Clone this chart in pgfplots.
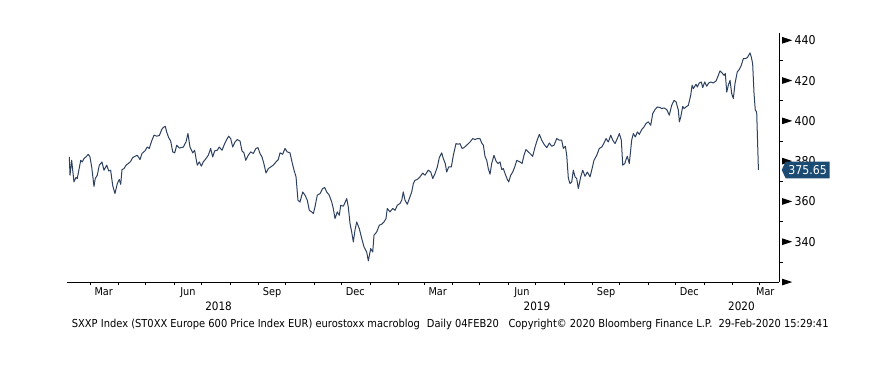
\documentclass[border=0pt]{standalone}
\usepackage{fontspec}
\setmainfont{DejaVu Sans}[FakeStretch=0.9]
\usepackage{pgfplots}
\pgfplotsset{compat=1.18}
\usetikzlibrary{shapes.symbols}
\definecolor{linec}{HTML}{2D415F}
\definecolor{tagc}{HTML}{1B4A72}
\newcommand{\tri}{\tikz[baseline={(0,-4.45bp)}]\fill[black] (0,-3.35bp)--(10bp,0)--(0,3.35bp)--cycle;}
\newcommand{\tl}[1]{\tri\hspace{2.4bp}#1}
\pgfplotstableread{
d v
36.4 382.1
37.2 373.0
39.0 380.4
41.5 369.7
43.7 371.9
45.1 371.4
48.9 380.4
50.6 379.6
52.5 381.3
54.6 382.1
57.2 383.4
59.0 382.1
60.9 377.1
63.4 367.5
64.8 371.4
67.0 373.0
69.2 378.0
72.1 379.6
74.3 375.5
77.3 378.0
79.5 375.1
81.6 375.5
83.8 368.0
86.3 363.9
88.9 368.9
91.0 370.9
92.6 368.5
94.0 375.8
96.2 376.3
98.4 378.0
100.9 378.8
103.5 379.9
105.7 381.8
108.2 382.4
110.7 382.9
113.7 380.8
115.8 383.8
119.1 385.1
121.6 387.0
123.8 386.3
126.4 390.0
129.0 392.9
131.9 392.4
134.8 392.7
137.4 395.7
139.1 396.7
141.3 397.3
142.8 394.5
145.0 391.7
147.2 390.0
149.4 384.6
151.6 384.1
153.8 387.9
156.6 386.5
161.0 387.0
163.9 389.5
166.1 393.7
168.3 387.0
171.3 384.1
173.4 385.4
174.9 381.3
176.3 378.0
178.5 379.6
180.7 377.5
182.8 379.6
185.8 381.3
188.3 382.9
190.9 386.3
193.1 382.1
195.3 385.1
198.1 385.4
200.3 387.0
203.3 385.4
206.2 388.7
208.4 390.7
210.6 392.4
212.8 391.2
215.0 387.0
217.5 389.5
220.0 390.7
223.0 390.0
225.1 385.1
227.3 384.1
229.2 380.4
232.0 382.9
234.6 384.6
237.5 383.8
240.4 386.3
242.6 386.7
244.8 383.8
247.0 382.1
249.2 378.5
251.4 374.1
253.9 376.3
256.5 377.1
259.3 378.0
262.3 379.6
264.8 380.8
266.7 384.1
269.6 383.4
272.1 386.3
274.6 384.6
277.6 384.1
279.8 379.6
282.0 375.5
284.2 372.2
286.3 360.6
288.5 359.7
291.5 364.7
294.0 363.1
296.5 360.6
298.7 355.6
301.3 354.8
303.1 354.0
304.9 357.3
307.4 363.1
310.4 363.9
313.3 366.4
315.5 366.9
317.7 364.7
320.5 363.1
323.2 359.7
324.9 356.5
326.8 351.5
329.3 354.8
331.5 353.1
333.0 358.1
335.9 357.6
339.6 361.4
341.3 357.3
343.2 349.0
345.0 344.9
346.8 339.9
348.6 345.7
350.5 349.8
353.3 346.5
356.0 341.6
358.5 337.4
361.4 334.9
363.2 330.5
365.8 336.6
368.0 334.9
369.4 343.2
372.4 344.9
375.2 348.2
377.8 348.7
380.3 349.8
382.5 351.5
383.9 356.5
386.9 354.8
389.8 356.5
392.4 355.6
394.9 358.1
397.8 359.0
399.7 360.6
401.4 364.7
403.3 360.6
405.8 358.6
408.0 361.4
410.6 364.7
412.4 368.9
414.2 370.5
416.7 370.9
419.7 372.2
422.6 374.1
425.1 373.0
428.7 375.5
431.4 374.6
433.6 371.4
436.1 373.8
438.6 377.1
440.8 381.8
443.4 384.1
445.1 381.3
447.3 378.8
448.8 374.6
451.0 377.1
453.9 377.1
456.1 382.9
459.0 388.7
461.5 388.4
463.4 388.7
465.6 386.3
467.8 386.7
470.7 387.9
474.3 389.5
477.3 391.2
479.8 390.7
482.3 391.2
485.2 391.2
487.1 389.0
488.9 387.9
490.7 382.4
492.6 380.4
494.3 376.3
496.2 373.5
498.0 378.8
500.5 382.9
502.7 380.1
504.9 378.8
507.1 379.6
509.0 375.8
510.7 376.3
512.9 373.5
515.1 370.9
516.6 369.7
518.8 373.0
521.0 374.6
523.2 377.1
525.4 380.4
529.0 379.6
531.2 378.8
533.3 382.9
535.5 385.8
538.0 384.6
539.9 383.8
542.8 382.4
545.4 387.0
547.9 390.7
550.1 393.3
552.7 390.4
555.2 388.4
558.2 386.7
561.0 389.0
563.6 387.4
566.1 387.9
569.1 391.2
571.9 390.4
574.5 390.4
576.3 386.3
578.5 387.4
580.0 382.9
581.8 371.4
583.6 368.9
585.5 369.7
587.2 375.5
589.1 372.2
590.9 371.4
592.7 366.4
595.3 372.2
597.5 375.5
600.0 372.5
602.5 374.6
605.5 372.2
607.3 375.5
609.8 380.4
612.8 382.9
615.6 386.3
618.3 387.0
620.8 389.0
623.0 391.2
625.5 389.5
628.1 392.9
630.3 390.4
632.8 388.7
635.3 391.2
637.5 393.7
639.7 390.4
641.2 378.0
643.4 378.8
644.8 380.8
646.2 382.4
648.4 378.8
651.0 390.4
652.8 393.7
655.0 392.0
657.2 394.5
659.4 393.3
662.0 395.7
664.5 397.0
666.7 398.7
669.2 399.5
671.8 397.8
674.0 403.6
676.5 405.6
679.0 406.9
682.0 406.6
683.8 406.1
686.3 406.4
689.3 405.6
692.1 402.8
694.7 407.7
697.3 410.2
699.5 409.4
702.0 405.3
703.1 399.5
704.6 401.9
706.8 407.2
708.2 406.1
710.4 406.9
712.9 407.7
715.5 412.7
717.0 417.7
718.4 416.0
721.3 418.2
722.7 416.8
724.9 418.8
727.1 419.3
728.6 416.5
730.8 419.3
733.0 417.2
735.2 418.8
737.4 419.3
740.2 418.8
743.2 419.8
745.7 422.6
747.5 424.8
749.7 423.8
751.9 422.6
753.3 423.5
754.9 414.3
756.6 417.7
758.5 420.1
760.3 413.5
762.1 411.1
763.9 418.5
766.4 424.3
768.6 425.5
770.8 427.6
773.0 430.9
775.2 430.9
777.4 431.4
778.9 432.6
780.3 433.7
781.7 431.7
783.2 428.4
784.7 413.5
786.1 405.3
787.6 404.4
789.5 375.65
}\sxxp
\begin{document}
\begin{tikzpicture}
\useasboundingbox (-67bp,-96bp) rectangle (802bp,282bp);
\begin{axis}[
  at={(0,0)}, anchor=south west,
  width=712bp, height=249bp, scale only axis,
  xmin=33.9, xmax=812, ymin=320, ymax=443.6,
  axis x line*=bottom, axis y line*=right,
  axis line style={black, line width=0.8bp},
  tick align=outside,
  tick style={black, line width=0.6bp},
  major tick length=3bp,
  minor tick length=4bp,
  xtick={59,90,120,151,181,212,243,273,304,334,365,396,424,455,485,516,546,577,608,638,669,699,730,761,790},
  xticklabels={},
  extra x ticks={74,166,258,349,439,531,623,714,797},
  extra x tick labels={Mar,Jun,Sep,Dec,Mar,Jun,Sep,Dec,Mar},
  extra x tick style={major tick length=0pt,
    tick label style={anchor=base, inner sep=0pt, yshift=-13.3bp,
      font=\fontsize{10.8bp}{12bp}\selectfont}},
  ytick={320,340,360,380,400,420,440},
  yticklabels={{\tri},{\tl{340}},{\tl{360}},{\tl{380}},{\tl{400}},{\tl{420}},{\tl{440}}},
  minor ytick={330,350,370,390,410,430},
  every major y tick/.style={draw=none},
  yticklabel style={anchor=base west, inner sep=0pt, yshift=-4.45bp,
    font=\fontsize{12.2bp}{14bp}\selectfont},
  clip=false,
]
\addplot[linec, line width=1bp, line join=round] table[x=d, y=v] {\sxxp};
\node[signal, signal to=west, signal pointer angle=130, fill=tagc, text=white,
  inner xsep=2.8bp, inner ysep=0pt, minimum height=16.7bp, anchor=west, xshift=2.5bp,
  font=\fontsize{12.2bp}{14bp}\selectfont] at (axis cs:812,375.65) {375.65};
\node[anchor=base, inner sep=0pt, yshift=-28.7bp, font=\fontsize{11.6bp}{13bp}\selectfont] at (axis cs:199.5,320) {2018};
\node[anchor=base, inner sep=0pt, yshift=-28.7bp, font=\fontsize{11.6bp}{13bp}\selectfont] at (axis cs:547.5,320) {2019};
\node[anchor=base, inner sep=0pt, yshift=-28.7bp, font=\fontsize{11.6bp}{13bp}\selectfont] at (axis cs:771,320) {2020};
\draw[gray, line width=0.8bp] (axis cs:365,320) ++(0,-17bp) -- ++(0,-16bp);
\draw[gray, line width=0.8bp] (axis cs:730,320) ++(0,-17bp) -- ++(0,-16bp);
\end{axis}
\begin{scope}[every node/.style={anchor=base west, inner sep=0pt, font=\fontsize{11bp}{13bp}\selectfont}]
\node at (4.7bp,-45.3bp) {SXXP Index (ST0XX Europe 600 Price Index EUR) eurostoxx macroblog};
\node at (359.7bp,-45.3bp) {Daily 04FEB20};
\node at (441.3bp,-45.3bp) {Copyright© 2020 Bloomberg Finance L.P.};
\node at (651.3bp,-45.3bp) {29-Feb-2020 15:29:41};
\end{scope}
\end{tikzpicture}
\end{document}
